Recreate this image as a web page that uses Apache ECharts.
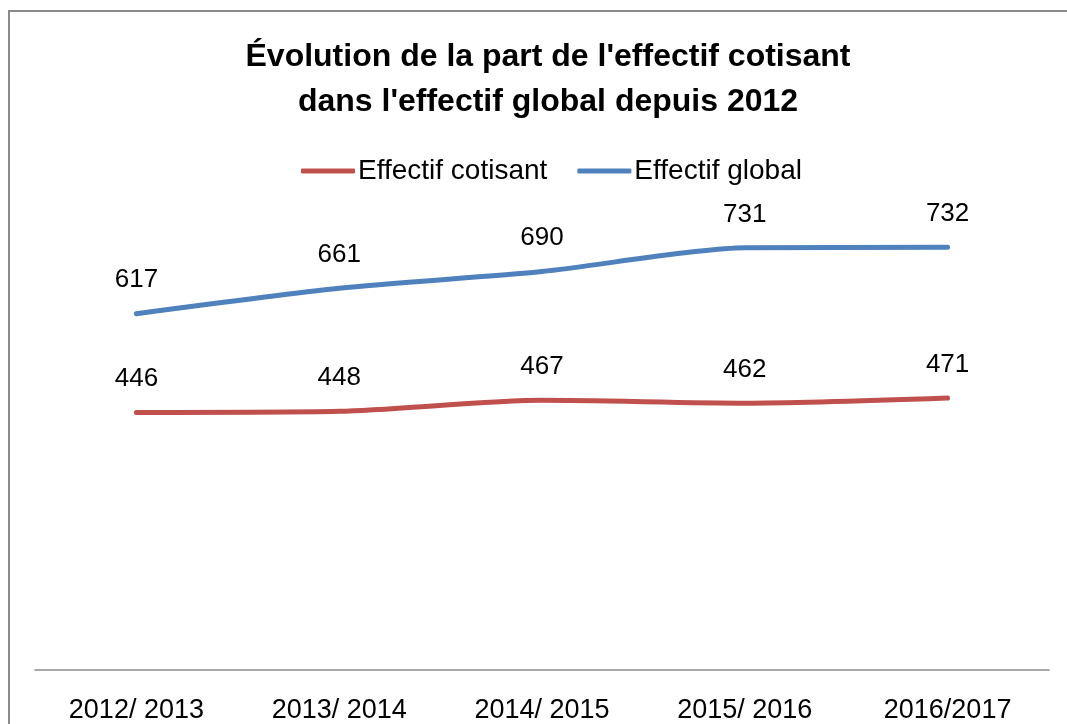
<!DOCTYPE html>
<html>
<head>
<meta charset="utf-8">
<script src="https://cdn.jsdelivr.net/npm/echarts@6/dist/echarts.min.js"></script>
<style>
  html, body { margin: 0; padding: 0; background: #fff; }
  #chart { width: 1067px; height: 724px; }
</style>
</head>
<body>
<div id="chart"></div>
<script>
// données
var years = ['2012/ 2013', '2013/ 2014', '2014/ 2015', '2015/ 2016', '2016/2017'];
var cotisant = [446, 448, 467, 462, 471];
var global = [617, 661, 690, 731, 732];

var font = '"Liberation Sans", Arial, sans-serif';

function labelStyle() {
  return { show: true, position: 'top', distance: 20, fontFamily: font, fontSize: 26, color: '#000' };
}

var chart = echarts.init(document.getElementById('chart'));
chart.setOption({
  backgroundColor: '#fff',
  animation: false,
  title: {
    text: "Évolution de la part de l'effectif cotisant\ndans l'effectif global depuis 2012",
    left: 543,
    textAlign: 'center',
    top: 30,
    textStyle: {
      fontFamily: font,
      fontSize: 32,
      fontWeight: 'bold',
      color: '#000',
      lineHeight: 45
    }
  },
  legend: {
    top: 152,
    left: 296,
    icon: 'roundRect',
    itemWidth: 54,
    itemHeight: 5,
    itemGap: 30,
    textStyle: { fontFamily: font, fontSize: 28, color: '#000', padding: [0, 0, 0, -2] },
    data: ['Effectif cotisant', 'Effectif global']
  },
  graphic: [{
    type: 'rect',
    shape: { x: 9, y: 11, width: 1200, height: 900 },
    style: { fill: 'none', stroke: '#8a8a8a', lineWidth: 2 }
  }],
  grid: { left: 35, right: 18, top: 208, bottom: 52 },
  xAxis: {
    type: 'category',
    data: years,
    boundaryGap: true,
    axisLine: { lineStyle: { color: '#8c8c8c', width: 1.5 } },
    axisTick: { show: false },
    axisLabel: { margin: 27, fontFamily: font, fontSize: 27, color: '#000' }
  },
  yAxis: {
    type: 'value',
    min: 0,
    max: 800,
    show: false,
    splitLine: { show: false }
  },
  series: [
    {
      name: 'Effectif cotisant',
      type: 'line',
      data: cotisant,
      smooth: 0.25,
      symbol: 'circle',
      symbolSize: 1,
      lineStyle: { color: '#C0504D', width: 5, cap: 'round' },
      itemStyle: { color: '#C0504D' },
      label: labelStyle()
    },
    {
      name: 'Effectif global',
      type: 'line',
      data: global,
      smooth: 0.25,
      symbol: 'circle',
      symbolSize: 1,
      lineStyle: { color: '#4F81BD', width: 5, cap: 'round' },
      itemStyle: { color: '#4F81BD' },
      label: labelStyle()
    }
  ]
});
</script>
</body>
</html>
